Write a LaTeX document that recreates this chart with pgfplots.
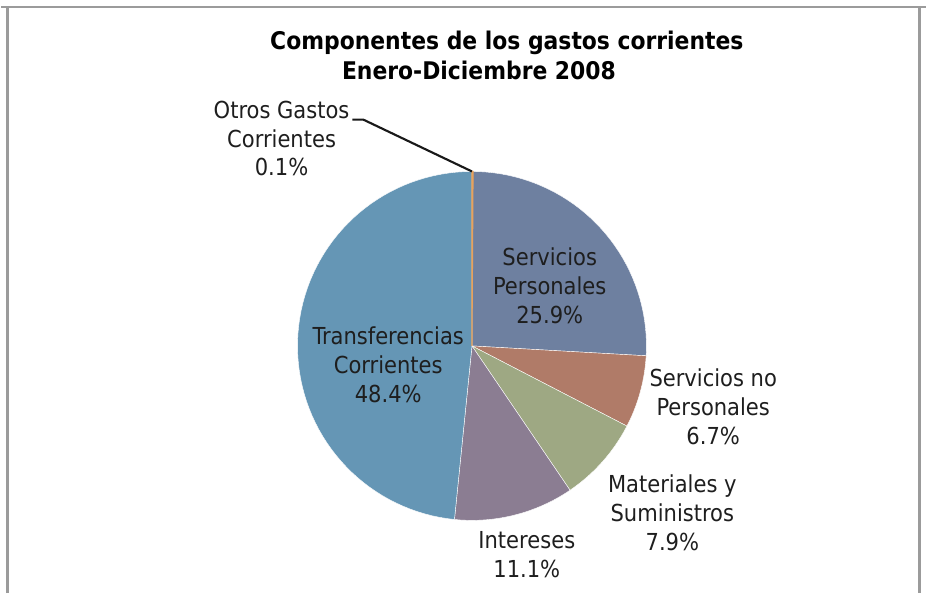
\documentclass[border=0pt]{standalone}
\usepackage{pgfplots}
\pgfplotsset{compat=1.18}
\usepackage{fontspec}
\setmainfont{DejaVu Sans Condensed}

\definecolor{cPers}{RGB}{110,128,160}
\definecolor{cNoPers}{RGB}{176,123,104}
\definecolor{cMat}{RGB}{158,168,131}
\definecolor{cInt}{RGB}{139,125,146}
\definecolor{cTrans}{RGB}{101,150,181}
\definecolor{cOtros}{RGB}{232,162,92}
\definecolor{frame}{RGB}{155,155,155}
\definecolor{txt}{RGB}{30,30,30}

% shares (%), clockwise from 12 o'clock
\def\vPers{25.9}
\def\vNoPers{6.7}
\def\vMat{7.9}
\def\vInt{11.1}
\def\vTrans{48.4}
\def\vOtros{0.1}

\pgfmathsetmacro\aA{90}
\pgfmathsetmacro\aB{\aA-\vPers*3.6}
\pgfmathsetmacro\aC{\aB-\vNoPers*3.6}
\pgfmathsetmacro\aD{\aC-\vMat*3.6}
\pgfmathsetmacro\aE{\aD-\vInt*3.6}
\pgfmathsetmacro\aF{\aE-\vTrans*3.6}
\pgfmathsetmacro\aG{\aF-\vOtros*3.6}

\def\cx{472}
\def\cy{347}
\def\R{175}

\tikzset{
  lbl/.style={inner sep=0pt, align=center, text=txt,
    font=\fontsize{17.6}{21.75}\selectfont},
  ttl/.style={inner sep=0pt, text=black,
    font=\fontsize{18.3}{22}\selectfont\bfseries},
}

\begin{document}
\begin{tikzpicture}
\begin{axis}[
  width=695.25pt, height=446.25pt, scale only axis,
  xmin=0, xmax=927, ymin=0, ymax=595, y dir=reverse,
  hide axis, clip=false,
  slice/.style={draw=white, line width=0.3pt, variable=\t},
]
\path (axis cs:0,0) rectangle (axis cs:927,595);
% frame
\draw[frame, line width=2.2pt] (axis cs:6,595) -- (axis cs:6,7) -- (axis cs:921,7) -- (axis cs:921,595);
\draw[frame, line width=2.2pt] (axis cs:0,7) -- (axis cs:927,7);

\addplot[slice, fill=cPers, domain=\aB:\aA, samples=40]
  ({\cx+\R*cos(t)}, {\cy-\R*sin(t)}) -- (axis cs:\cx,\cy) -- cycle;
\addplot[slice, fill=cNoPers, domain=\aC:\aB, samples=15]
  ({\cx+\R*cos(t)}, {\cy-\R*sin(t)}) -- (axis cs:\cx,\cy) -- cycle;
\addplot[slice, fill=cMat, domain=\aD:\aC, samples=15]
  ({\cx+\R*cos(t)}, {\cy-\R*sin(t)}) -- (axis cs:\cx,\cy) -- cycle;
\addplot[slice, fill=cInt, domain=\aE:\aD, samples=20]
  ({\cx+\R*cos(t)}, {\cy-\R*sin(t)}) -- (axis cs:\cx,\cy) -- cycle;
\addplot[slice, fill=cTrans, domain=\aF:\aE, samples=70]
  ({\cx+\R*cos(t)}, {\cy-\R*sin(t)}) -- (axis cs:\cx,\cy) -- cycle;
\addplot[draw=cOtros, fill=cOtros, line width=0.8pt, domain=\aG:\aF, samples=2, variable=\t]
  ({\cx+\R*cos(t)}, {\cy-\R*sin(t)}) -- (axis cs:\cx,\cy) -- cycle;

% leader line
\draw[black!90, line width=1.6pt] (axis cs:352,120) -- (axis cs:363,120) -- (axis cs:472,172);

% title
\node[ttl] at (axis cs:507,43) {Componentes de los gastos corrientes};
\node[ttl] at (axis cs:479,71) {Enero-Diciembre 2008};

% labels
\node[lbl] at (axis cs:281,139) {Otros Gastos\\Corrientes\\0.1\%};
\node[lbl] at (axis cs:550,287) {Servicios\\Personales\\25.9\%};
\node[lbl] at (axis cs:714,408) {Servicios no\\Personales\\6.7\%};
\node[lbl] at (axis cs:673,514) {Materiales y\\Suministros\\7.9\%};
\node[lbl] at (axis cs:527,556) {Intereses\\11.1\%};
\node[lbl] at (axis cs:388,366) {Transferencias\\Corrientes\\48.4\%};
\end{axis}
\end{tikzpicture}
\end{document}
